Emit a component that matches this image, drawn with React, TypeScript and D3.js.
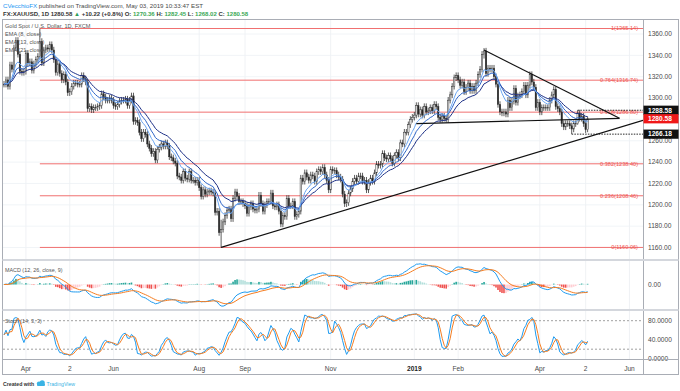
import React from "react";
import * as d3 from "d3";

// calendar
const startDate = "2018-03-16";
const holidays = ["2018-12-25", "2019-01-01"];

// daily closes, XAU/USD, Mar 16 2018 – May 3 2019
const closes: number[] = [
  1313,
  1317, 1311, 1331, 1327, 1347, 1354, 1341, 1325, 1324, 1325,
  1342, 1333, 1334, 1326, 1332, 1336, 1339, 1353, 1333, 1345,
  1347, 1346, 1350, 1345, 1336, 1324, 1332, 1323, 1317, 1322,
  1315, 1305, 1306, 1311, 1314, 1314, 1313, 1313, 1321, 1318,
  1315, 1290, 1292, 1289, 1291, 1291, 1292, 1293, 1304, 1301,
  1298, 1298, 1300, 1298, 1293, 1292, 1294, 1297, 1298, 1298,
  1299, 1293, 1298, 1302, 1278, 1279, 1277, 1268, 1262, 1268,
  1266, 1257, 1253, 1248, 1250, 1242, 1252, 1254, 1257, 1255,
  1258, 1255, 1245, 1244, 1241, 1239, 1227, 1226, 1223, 1231,
  1225, 1224, 1231, 1223, 1223, 1221, 1223, 1216, 1208, 1214,
  1210, 1212, 1213, 1212, 1211, 1193, 1194, 1174, 1177, 1184,
  1190, 1195, 1196, 1187, 1206, 1212, 1208, 1203, 1203, 1201,
  1199, 1192, 1198, 1201, 1196, 1195, 1196, 1209, 1201, 1194,
  1200, 1203, 1203, 1211, 1199, 1198, 1200, 1194, 1182, 1190,
  1189, 1206, 1199, 1199, 1203, 1189, 1191, 1194, 1225, 1222,
  1230, 1226, 1223, 1228, 1227, 1222, 1231, 1233, 1231, 1235,
  1228, 1223, 1214, 1233, 1232, 1232, 1228, 1226, 1224, 1210,
  1201, 1202, 1211, 1215, 1222, 1225, 1222, 1227, 1227, 1222,
  1223, 1214, 1221, 1225, 1222, 1230, 1238, 1237, 1238, 1248,
  1244, 1243, 1246, 1243, 1239, 1246, 1249, 1244, 1258, 1257,
  1268, 1268, 1275, 1280, 1282, 1284, 1293, 1285,
  1289, 1284, 1292, 1287, 1288, 1291, 1288, 1294, 1292, 1282,
  1280, 1283, 1281, 1280, 1298, 1303, 1311, 1319, 1321, 1317,
  1312, 1315, 1306, 1310, 1314, 1307, 1311, 1307, 1314, 1322,
  1327, 1341, 1344, 1323, 1328, 1327, 1328, 1320, 1313, 1294,
  1287, 1286, 1287, 1285, 1298, 1291, 1297, 1309, 1296, 1302,
  1303, 1306, 1312, 1303, 1312, 1322, 1315, 1310, 1291, 1296,
  1287, 1291, 1291, 1291, 1291, 1298, 1303, 1308, 1292, 1290,
  1287, 1276, 1273, 1276, 1276, 1274, 1271, 1276, 1276, 1286,
  1281, 1283, 1276, 1270.36, 1280.58,
];

// notable daily extremes
const wickDates = ["2018-04-11", "2018-08-16", "2019-02-20", "2019-04-23", "2019-04-26", "2019-05-03"];
const wickHighs = [1365.14, 1186, 1346.8, 1277, 1288.58, 1282.45];
const wickLows = [1336, 1160.06, 1337, 1266.18, 1275, 1268.02];

// fibonacci retracement
const fibRatios = [1, 0.764, 0.618, 0.382, 0.236, 0];
const fibHigh = 1365.14;
const fibLow = 1160.06;
const fibStart = "2018-04-11";

// drawn lines
const risingDates = ["2018-08-16", "2019-05-03"];
const risingPrices = [1160.06, 1263.5];
const fallingDates = ["2019-02-20", "2019-05-27"];
const fallingPrices = [1345, 1281];
const necklineDates = ["2019-01-03", "2019-05-27"];
const necklinePrices = [1276, 1281];
const levelDates = ["2019-04-26", "2019-04-23"];
const levelPrices = [1288.58, 1266.18];

// axis labels
const timeLabels = ["Apr", "2", "Jun", "Aug", "Sep", "Nov", "2019", "Feb", "Apr", "2", "Jun"];
const timeLabelDates = [
  "2018-04-02", "2018-05-02", "2018-06-01", "2018-08-01", "2018-09-03", "2018-11-01",
  "2019-01-02", "2019-02-01", "2019-04-01", "2019-05-02", "2019-06-03",
];
const priceTicks = [1160, 1180, 1200, 1220, 1240, 1260, 1280, 1300, 1320, 1340, 1360];
const stochTicks = [0, 40, 80];
const stochBands = [20, 80];

// ---- derived ----
const tradingDates: string[] = [];
{
  const d = new Date(startDate + "T00:00:00Z");
  while (tradingDates.length < 340) {
    const s = d.toISOString().slice(0, 10);
    const wd = d.getUTCDay();
    if (wd !== 0 && wd !== 6 && !holidays.includes(s)) tradingDates.push(s);
    d.setUTCDate(d.getUTCDate() + 1);
  }
}
const idx = (s: string) => tradingDates.indexOf(s);

const wickPad = 3;
const candles = closes.map((c, i) => {
  const o = i === 0 ? c : closes[i - 1];
  const k = wickDates.indexOf(tradingDates[i]);
  return {
    i, o, c,
    h: k >= 0 ? wickHighs[k] : Math.max(o, c) + wickPad,
    l: k >= 0 ? wickLows[k] : Math.min(o, c) - wickPad,
  };
});

const ema = (v: number[], n: number) => {
  const k = 2 / (n + 1);
  const out: number[] = [];
  v.forEach((d, i) => out.push(i === 0 ? d : d * k + out[i - 1] * (1 - k)));
  return out;
};
const sma = (v: number[], n: number) =>
  v.map((_, i) => d3.mean(v.slice(Math.max(0, i - n + 1), i + 1)) as number);

const ema8 = ema(closes, 8);
const ema13 = ema(closes, 13);
const ema21 = ema(closes, 21);

const e12 = ema(closes, 12);
const e26 = ema(closes, 26);
const macd = e12.map((d, i) => d - e26[i]);
const signal = ema(macd, 9);
const hist = macd.map((d, i) => d - signal[i]);

const rawK = candles.map((d, i) => {
  const win = candles.slice(Math.max(0, i - 13), i + 1);
  const hh = d3.max(win, w => w.h) as number;
  const ll = d3.min(win, w => w.l) as number;
  return hh === ll ? 50 : (100 * (d.c - ll)) / (hh - ll);
});
const stochK = sma(rawK, 3);
const stochD = sma(stochK, 3);

const FONT = "'Liberation Sans', Arial, sans-serif";

export default function App() {
  const plotL = 3;
  const plotR = 643;
  const x = d3.scaleLinear().domain([-0.5, 320.8]).range([plotL, plotR]);
  const y = d3.scaleLinear().domain([1160, 1360]).range([247.5, 34]);
  const ys = d3.scaleLinear().domain([0, 100]).range([358.7, 311.2]);
  const mLo = d3.min([...macd, ...signal, ...hist]) as number;
  const mHi = d3.max([...macd, ...signal, ...hist]) as number;
  const ym = d3.scaleLinear().domain([mLo * 1.04, mHi * 1.04]).range([307, 263]);

  const line = (yy: d3.ScaleLinear<number, number>) =>
    d3.line<number>().x((_, i) => x(i)).y(v => yy(v));

  const seg = (dates: string[], prices: number[], extend = false) => {
    const i0 = idx(dates[0]);
    const i1 = idx(dates[1]);
    let xe = i1;
    let pe = prices[1];
    if (extend) {
      xe = x.invert(plotR);
      pe = prices[0] + ((prices[1] - prices[0]) * (xe - i0)) / (i1 - i0);
    }
    return { x1: x(i0), y1: y(prices[0]), x2: x(xe), y2: y(pe) };
  };
  const rising = seg(risingDates, risingPrices, true);
  const falling = seg(fallingDates, fallingPrices);
  const neck = seg(necklineDates, necklinePrices);

  const timeX = timeLabelDates.map(d => x(idx(d)));
  const last = closes[closes.length - 1];
  const bw = 1.4;

  const axisText = { fontSize: 6.6, fill: "#4a4a4a", fontFamily: FONT } as const;

  return (
    <svg width={680} height={391} style={{ position: "absolute", left: 0, top: 0, background: "#fff" }}
      fontFamily={FONT}>
      <defs>
        <clipPath id="mainClip"><rect x={plotL} y={20} width={plotR - plotL} height={239} /></clipPath>
        <clipPath id="macdClip"><rect x={plotL} y={261} width={plotR - plotL} height={48} /></clipPath>
        <clipPath id="stochClip"><rect x={plotL} y={311} width={plotR - plotL} height={48} /></clipPath>
      </defs>
      <rect width={680} height={391} fill="#fff" />

      {/* header */}
      <text x={3} y={7.8} fontSize={6.2} fill="#4a4a4a">
        <tspan fill="#2196f3">CVecchioFX</tspan>
        <tspan> published on TradingView.com, May 03, 2019 10:33:47 EST</tspan>
      </text>
      <text x={3} y={15.8} fontSize={6} fontWeight="bold" fill="#333">
        <tspan>FX:XAUUSD, 1D </tspan>
        <tspan>1280.58 </tspan>
        <tspan fill="#2e9e5b">▲ </tspan>
        <tspan>+10.22 (+0.8%) O: </tspan>
        <tspan fill="#3aa856">1270.36</tspan>
        <tspan> H: </tspan>
        <tspan fill="#3aa856">1282.45</tspan>
        <tspan> L: </tspan>
        <tspan fill="#3aa856">1268.02</tspan>
        <tspan> C: </tspan>
        <tspan fill="#3aa856">1280.58</tspan>
      </text>

      {/* grid */}
      {timeX.map((tx, i) => (
        <g key={"vg" + i}>
          <line x1={tx} x2={tx} y1={20} y2={259} stroke="#eceff3" strokeWidth={0.8} />
          <line x1={tx} x2={tx} y1={261} y2={309} stroke="#eceff3" strokeWidth={0.8} />
          <line x1={tx} x2={tx} y1={311} y2={359} stroke="#eceff3" strokeWidth={0.8} />
        </g>
      ))}
      {priceTicks.map(p => (
        <line key={"hg" + p} x1={plotL} x2={plotR} y1={y(p)} y2={y(p)} stroke="#eef1f5" strokeWidth={0.8} />
      ))}

      {/* main pane */}
      <g clipPath="url(#mainClip)">
        {fibRatios.map(r => {
          const v = fibLow + r * (fibHigh - fibLow);
          return (
            <g key={"fib" + r}>
              <line x1={x(idx(fibStart))} x2={plotR} y1={y(v)} y2={y(v)} stroke="#f07070" strokeWidth={1} />
              <text x={638} y={y(v)} dy="0.35em" textAnchor="end" fontSize={5.6} fill="#ef5350">
                {`${r}(${v.toFixed(2)})`}
              </text>
            </g>
          );
        })}

        {candles.map(d => {
          const up = d.c >= d.o;
          const top = y(Math.max(d.o, d.c));
          const bh = Math.max(0.8, y(Math.min(d.o, d.c)) - top);
          return (
            <g key={"c" + d.i}>
              <line x1={x(d.i)} x2={x(d.i)} y1={y(d.h)} y2={y(d.l)} stroke="#333" strokeWidth={0.8} />
              <rect x={x(d.i) - bw / 2} y={top} width={bw} height={bh}
                fill={up ? "#fff" : "#222"} stroke="#333" strokeWidth={0.5} />
            </g>
          );
        })}

        <path d={line(y)(ema21) ?? ""} fill="none" stroke="#1c2f86" strokeWidth={1} />
        <path d={line(y)(ema13) ?? ""} fill="none" stroke="#2f66c8" strokeWidth={1} />
        <path d={line(y)(ema8) ?? ""} fill="none" stroke="#6ba6f2" strokeWidth={1} />

        <line {...rising} stroke="#111" strokeWidth={1.2} />
        <line {...falling} stroke="#111" strokeWidth={1.2} />
        <line {...neck} stroke="#111" strokeWidth={1.2} />

        {levelPrices.map((p, i) => (
          <line key={"lv" + i} x1={x(idx(levelDates[i]))} x2={plotR} y1={y(p)} y2={y(p)}
            stroke="#111" strokeWidth={0.9} strokeDasharray="1.5,1.2" />
        ))}
      </g>

      {/* legend */}
      <g fontSize={5.6} fill="#555">
        <text x={5} y={27.5}>Gold Spot / U.S. Dollar, 1D, FXCM</text>
        <text x={5} y={35.5}>EMA (8, close)</text>
        <text x={5} y={43.5}>EMA (13, close)</text>
        <text x={5} y={51.5}>EMA (21, close)</text>
      </g>

      {/* macd pane */}
      <g clipPath="url(#macdClip)">
        {hist.map((h, i) => {
          const prev = i === 0 ? 0 : hist[i - 1];
          const col = h >= 0 ? (h >= prev ? "#26a69a" : "#b2dfdb") : (h < prev ? "#ef5350" : "#ffcdd2");
          const y0 = ym(0);
          const y1 = ym(h);
          return <rect key={"h" + i} x={x(i) - 0.8} y={Math.min(y0, y1)} width={1.6}
            height={Math.max(0.3, Math.abs(y1 - y0))} fill={col} />;
        })}
        <path d={line(ym)(macd) ?? ""} fill="none" stroke="#1e9bf0" strokeWidth={1} />
        <path d={line(ym)(signal) ?? ""} fill="none" stroke="#f57c1f" strokeWidth={1} />
      </g>
      <text x={5} y={272} fontSize={5.4} fill="#555">MACD (12, 26, close, 9)</text>

      {/* stoch pane */}
      {stochBands.map(b => (
        <line key={"sb" + b} x1={plotL} x2={plotR} y1={ys(b)} y2={ys(b)} stroke="#888"
          strokeWidth={0.8} strokeDasharray="2,2" />
      ))}
      <g clipPath="url(#stochClip)">
        <path d={line(ys)(stochK) ?? ""} fill="none" stroke="#1e9bf0" strokeWidth={1} />
        <path d={line(ys)(stochD) ?? ""} fill="none" stroke="#f57c1f" strokeWidth={1} />
      </g>
      <text x={5} y={323} fontSize={5.4} fill="#555">Stoch (14, 3, 3)</text>

      {/* frames */}
      <rect x={2.5} y={19.5} width={676} height={355} fill="none" stroke="#a9adb5" strokeWidth={1} />
      <line x1={643.5} x2={643.5} y1={19.5} y2={374.5} stroke="#a9adb5" strokeWidth={1} />
      <line x1={2.5} x2={678.5} y1={260} y2={260} stroke="#d4d7dd" strokeWidth={2.2} />
      <line x1={2.5} x2={678.5} y1={310} y2={310} stroke="#d4d7dd" strokeWidth={2.2} />
      <line x1={2.5} x2={678.5} y1={359.5} y2={359.5} stroke="#a9adb5" strokeWidth={1} />

      {/* price axis */}
      {priceTicks.map(p => (
        <text key={"pt" + p} x={648} y={y(p)} dy="0.35em" {...axisText}>{p.toFixed(2)}</text>
      ))}
      {levelPrices.map((p, i) => (
        <g key={"tag" + i}>
          <rect x={643.5} y={y(p) - 4.6} width={35} height={9.2} fill="#111" />
          <text x={648} y={y(p)} dy="0.35em" fontSize={6.6} fontWeight="bold" fill="#fff">{p.toFixed(2)}</text>
        </g>
      ))}
      <rect x={643.5} y={y(last) - 4.6} width={35} height={9.2} fill="#f01818" />
      <text x={648} y={y(last)} dy="0.35em" fontSize={6.6} fontWeight="bold" fill="#fff">{last.toFixed(2)}</text>

      <text x={648} y={ym(0)} dy="0.35em" {...axisText}>0.00</text>
      {stochTicks.map(t => (
        <text key={"st" + t} x={648} y={ys(t)} dy="0.35em" {...axisText}>{t.toFixed(4)}</text>
      ))}
      <line x1={643.5} x2={678.5} y1={359.5} y2={359.5} stroke="#a9adb5" strokeWidth={1} />

      {/* time axis */}
      {timeLabels.map((t, i) => (
        <text key={"tl" + i} x={timeX[i]} y={368.5} dy="0.35em" textAnchor="middle"
          {...axisText} fontWeight={t === "2019" ? "bold" : "normal"} fill={t === "2019" ? "#222" : "#4a4a4a"}>
          {t}
        </text>
      ))}

      {/* footer */}
      <text x={3} y={386} fontSize={5.2} fontWeight="bold" fill="#333">Created with</text>
      <g fill="#3bb3e4">
        <circle cx={39} cy={383.6} r={2.2} />
        <circle cx={42.2} cy={382.8} r={2.6} />
        <rect x={37} y={383.6} width={8} height={2.4} rx={1} />
      </g>
      <text x={46.5} y={386} fontSize={5.2} fill="#3bb3e4">TradingView</text>
    </svg>
  );
}
